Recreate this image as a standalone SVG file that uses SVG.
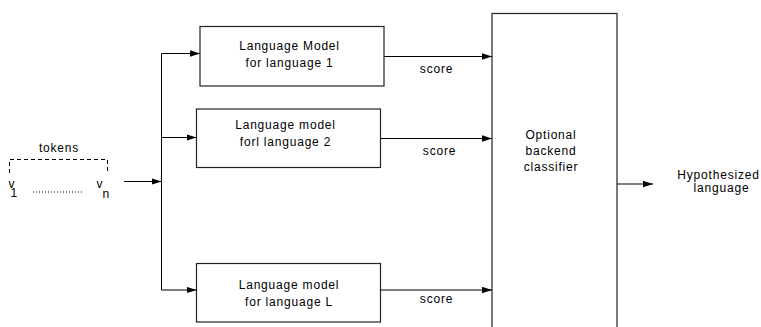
<svg xmlns="http://www.w3.org/2000/svg" width="761" height="327" viewBox="0 0 761 327">
  <defs>
    <marker id="arrow" markerWidth="10" markerHeight="7" refX="10" refY="3.5" orient="auto" markerUnits="userSpaceOnUse">
      <path d="M0,0.3 L10,3.5 L0,6.7 Z" fill="#000"/>
    </marker>
    <style>
      text { font-family: "Liberation Sans", Arial, Helvetica, sans-serif; font-size: 12px; letter-spacing: 0.8px; fill: #000; }
      .c { text-anchor: middle; }
      .box { fill: #fff; stroke: #222; stroke-width: 1.2; }
      .wire { fill: none; stroke: #000; stroke-width: 1; }
      .arr { marker-end: url(#arrow); }
      .dash { fill: none; stroke: #000; stroke-width: 1; stroke-dasharray: 4 3; }
      .dots { fill: none; stroke: #000; stroke-width: 1; stroke-dasharray: 1 2; }
    </style>
  </defs>

  <rect width="761" height="327" fill="#fff"/>

  <!-- token sequence input: v_1 ... v_n -->
  <g id="tokens">
    <text class="c" x="59" y="151.5">tokens</text>
    <path class="dash" d="M9.5,173 V159.5 H107.5 V173"/>
    <text x="8.5" y="188">v<tspan x="10.5" dy="9" letter-spacing="0">1</tspan></text>
    <line class="dots" x1="33" y1="192" x2="84" y2="192"/>
    <text x="96.5" y="188">v<tspan x="102.5" dy="9.5" letter-spacing="0">n</tspan></text>
  </g>

  <!-- language model boxes -->
  <g id="lm1">
    <rect class="box" x="200" y="26.5" width="184" height="59.5"/>
    <text class="c" x="289.5" y="49.5">Language Model</text>
    <text class="c" x="289.5" y="67">for language 1</text>
  </g>

  <g id="lm2">
    <rect class="box" x="196.5" y="109" width="184" height="58.5"/>
    <text class="c" x="285.5" y="129">Language model</text>
    <text class="c" x="285.5" y="146">forl language 2</text>
  </g>

  <g id="lmL">
    <rect class="box" x="196.5" y="263.5" width="184" height="58.5"/>
    <text class="c" x="289" y="289">Language model</text>
    <text class="c" x="289" y="305.5">for language L</text>
  </g>

  <!-- backend classifier (runs past the lower edge) -->
  <g id="classifier">
    <rect class="box" x="492" y="13.5" width="125" height="330"/>
    <text class="c" x="551" y="139">Optional</text>
    <text class="c" x="551" y="155">backend</text>
    <text class="c" x="551" y="171">classifier</text>
  </g>

  <g id="output">
    <text class="c" x="718.5" y="179">Hypothesized</text>
    <text class="c" x="721.5" y="191.5">language</text>
  </g>

  <!-- connectors -->
  <g id="connectors">
    <line class="wire arr" x1="124" y1="181.5" x2="161.5" y2="181.5"/>
    <line class="wire" x1="161.5" y1="53.5" x2="161.5" y2="290"/>
    <line class="wire arr" x1="161.5" y1="53.5" x2="200" y2="53.5"/>
    <line class="wire arr" x1="161.5" y1="137.5" x2="196.5" y2="137.5"/>
    <line class="wire arr" x1="161.5" y1="290" x2="196.5" y2="290"/>

    <line class="wire arr" x1="384" y1="56.5" x2="492" y2="56.5"/>
    <line class="wire arr" x1="380.5" y1="138.5" x2="492" y2="138.5"/>
    <line class="wire arr" x1="380.5" y1="290" x2="492" y2="290"/>

    <line class="wire arr" x1="617" y1="184" x2="653" y2="184"/>

    <text class="c" x="436.5" y="73">score</text>
    <text class="c" x="439.5" y="154.5">score</text>
    <text class="c" x="436.5" y="302.5">score</text>
  </g>
</svg>
